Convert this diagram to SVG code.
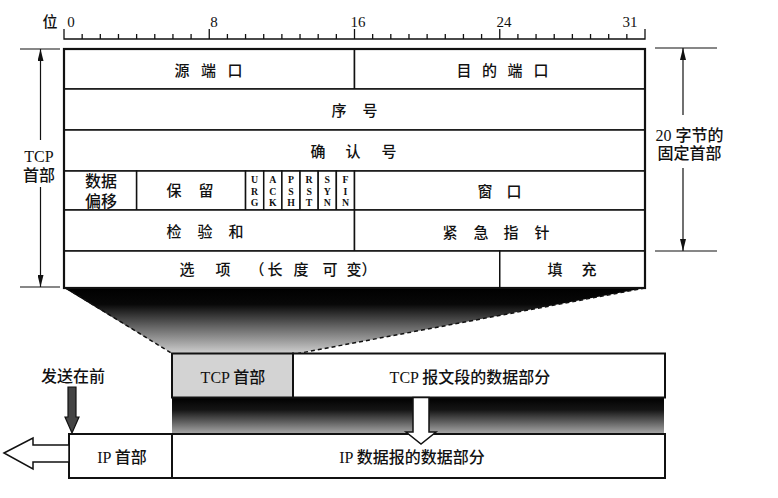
<svg xmlns="http://www.w3.org/2000/svg" width="778" height="498" viewBox="0 0 778 498">
<style>
.t{font-family:"Liberation Serif","Noto Sans CJK SC",serif;font-size:15px;font-weight:500;fill:#111;text-anchor:middle;dominant-baseline:central}
.b{font-size:16px}
.fl{font-family:"Liberation Serif",serif;font-size:9.8px;font-weight:bold;fill:#111;text-anchor:middle;dominant-baseline:central}
.cell{fill:#fff;stroke:#111;stroke-width:1.5}
.ln{fill:none;stroke:#111;stroke-width:1.3}
.dim{fill:none;stroke:#111;stroke-width:1.2}
.box{fill:none;stroke:#111;stroke-width:2.2}
.wa{fill:#fff;stroke:#111;stroke-width:1.5}
</style>
<defs>
<marker id="ah" viewBox="0 0 12 6" refX="12" refY="3" markerWidth="12" markerHeight="6" markerUnits="userSpaceOnUse" orient="auto-start-reverse">
<path d="M0 0L12 3L0 6z" fill="#111"/>
</marker>
<linearGradient id="g1" gradientUnits="userSpaceOnUse" x1="0" y1="288" x2="0" y2="353">
<stop offset="0" stop-color="#000"/>
<stop offset="0.25" stop-color="#080808"/>
<stop offset="0.6" stop-color="#666"/>
<stop offset="1" stop-color="#cdcdcd"/>
</linearGradient>
<linearGradient id="g2" gradientUnits="userSpaceOnUse" x1="0" y1="397" x2="0" y2="434">
<stop offset="0" stop-color="#000"/>
<stop offset="0.35" stop-color="#151515"/>
<stop offset="1" stop-color="#aaa"/>
</linearGradient>
</defs>
<rect width="778" height="498" fill="#fff"/>

<!-- shading -->
<g id="shading">
<polygon points="64,288 645,288 298,353.5 172,353.5" fill="url(#g1)"/>
<path d="M66 288L172 353.5M645 288L298 353.5" fill="none" stroke="#111" stroke-width="1.5" stroke-dasharray="4 3"/>
<rect x="172" y="397.5" width="492" height="36.5" fill="url(#g2)"/>
</g>

<!-- ruler -->
<g id="ruler">
<text class="t" x="50" y="22" font-size="16">位</text>
<path class="ln" d="M64 29V39H645V29M209.25 29V39M354.5 29V39M499.75 29V39"/>
<path class="ln" d="M82.16 34V39M100.31 34V39M118.47 34V39M136.63 34V39M154.78 34V39M172.94 34V39M191.09 34V39M227.41 34V39M245.56 34V39M263.72 34V39M281.88 34V39M300.03 34V39M318.19 34V39M336.34 34V39M372.66 34V39M390.81 34V39M408.97 34V39M427.13 34V39M445.28 34V39M463.44 34V39M481.59 34V39M517.91 34V39M536.06 34V39M554.22 34V39M572.38 34V39M590.53 34V39M608.69 34V39M626.84 34V39"/>
<text class="t" x="71" y="22">0</text>
<text class="t" x="214" y="22">8</text>
<text class="t" x="358" y="22">16</text>
<text class="t" x="504" y="22">24</text>
<text class="t" x="630" y="22">31</text>
</g>

<!-- header fields -->
<g id="f-srcport"><rect class="cell" x="64" y="49" width="290.5" height="40"/><text class="t" x="182 208.5 235" y="71">源端口</text></g>
<g id="f-dstport"><rect class="cell" x="354.5" y="49" width="290.5" height="40"/><text class="t" x="464 489.5 515 541" y="71">目的端口</text></g>
<g id="f-seq"><rect class="cell" x="64" y="89" width="581" height="41"/><text class="t" x="339 370" y="111">序号</text></g>
<g id="f-ack"><rect class="cell" x="64" y="130" width="581" height="41"/><text class="t" x="318 353 389" y="152">确认号</text></g>
<g id="f-offset"><rect class="cell" x="64" y="171" width="72.63" height="39"/><text class="t b" x="101" y="181">数据<tspan x="101" dy="20">偏移</tspan></text></g>
<g id="f-reserved"><rect class="cell" x="136.63" y="171" width="108.93" height="39"/><text class="t" x="174 206" y="191">保留</text></g>
<g id="f-urg"><rect class="cell" x="245.56" y="171" width="18.16" height="39"/><text class="fl" x="254.64" y="179">U<tspan x="254.64" dy="11.6">R</tspan><tspan x="254.64" dy="11.6">G</tspan></text></g>
<g id="f-ackflag"><rect class="cell" x="263.72" y="171" width="18.16" height="39"/><text class="fl" x="272.8" y="179">A<tspan x="272.8" dy="11.6">C</tspan><tspan x="272.8" dy="11.6">K</tspan></text></g>
<g id="f-psh"><rect class="cell" x="281.88" y="171" width="18.15" height="39"/><text class="fl" x="290.95" y="179">P<tspan x="290.95" dy="11.6">S</tspan><tspan x="290.95" dy="11.6">H</tspan></text></g>
<g id="f-rst"><rect class="cell" x="300.03" y="171" width="18.16" height="39"/><text class="fl" x="309.11" y="179">R<tspan x="309.11" dy="11.6">S</tspan><tspan x="309.11" dy="11.6">T</tspan></text></g>
<g id="f-syn"><rect class="cell" x="318.19" y="171" width="18.15" height="39"/><text class="fl" x="327.27" y="179">S<tspan x="327.27" dy="11.6">Y</tspan><tspan x="327.27" dy="11.6">N</tspan></text></g>
<g id="f-fin"><rect class="cell" x="336.34" y="171" width="18.16" height="39"/><text class="fl" x="345.42" y="179">F<tspan x="345.42" dy="11.6">I</tspan><tspan x="345.42" dy="11.6">N</tspan></text></g>
<g id="f-window"><rect class="cell" x="354.5" y="171" width="290.5" height="39"/><text class="t" x="485 514" y="192">窗口</text></g>
<g id="f-checksum"><rect class="cell" x="64" y="210" width="290.5" height="41"/><text class="t" x="174 205 236" y="232">检验和</text></g>
<g id="f-urgent"><rect class="cell" x="354.5" y="210" width="290.5" height="41"/><text class="t" x="450 481 511 542" y="233">紧急指针</text></g>
<g id="f-options"><rect class="cell" x="64" y="251" width="435.75" height="37"/><text class="t" x="187 223 257 275 301 330 354 369" y="270">选项（长度可变）</text></g>
<g id="f-padding"><rect class="cell" x="499.75" y="251" width="145.25" height="37"/><text class="t" x="555 589" y="270">填充</text></g>
<rect class="box" x="64" y="49" width="581" height="239"/>

<!-- bottom boxes -->
<g id="tcp-header"><rect x="172" y="353.5" width="121" height="44" fill="#d3d3d3" stroke="#111" stroke-width="2"/><text class="t b" x="233" y="377">TCP 首部</text></g>
<g id="tcp-data"><rect x="293" y="353.5" width="372" height="44" fill="#fff" stroke="#111" stroke-width="2"/><text class="t b" x="470" y="377">TCP 报文段的数据部分</text></g>
<g id="ip-header"><rect x="69" y="434" width="103" height="44" fill="#fff" stroke="#111" stroke-width="2"/><text class="t b" x="122" y="457">IP 首部</text></g>
<g id="ip-data"><rect x="172" y="434" width="493" height="44" fill="#fff" stroke="#111" stroke-width="2"/><text class="t b" x="412" y="457">IP 数据报的数据部分</text></g>

<!-- labels -->
<g id="lbl-tcp"><text class="t b" x="39" y="156">TCP<tspan x="39" dy="19">首部</tspan></text></g>
<g id="lbl-20"><text class="t b" x="689.5" y="135">20 字节的<tspan x="689.5" dy="18">固定首部</tspan></text></g>
<g id="lbl-send"><text class="t b" x="73" y="376">发送在前</text></g>

<!-- connectors -->
<g id="connectors">
<path class="dim" d="M20 49H60M20 287H60"/>
<path class="dim" d="M40.5 140V49" marker-end="url(#ah)"/>
<path class="dim" d="M40.5 187V287" marker-end="url(#ah)"/>
<path class="dim" d="M655 48H717M655 251H717"/>
<path class="dim" d="M683 115V48" marker-end="url(#ah)"/>
<path class="dim" d="M683 168V251" marker-end="url(#ah)"/>
<polygon class="wa" points="413,397.5 429,397.5 429,432 436,432 421,444 406,432 413,432"/>
<polygon points="68,387 76,387 76,417 79,417 72,433 65,417 68,417" fill="#444" stroke="#111" stroke-width="1.2"/>
<polygon class="wa" points="4,453 33,438 33,445 69,445 69,462 33,462 33,469"/>
</g>
</svg>
